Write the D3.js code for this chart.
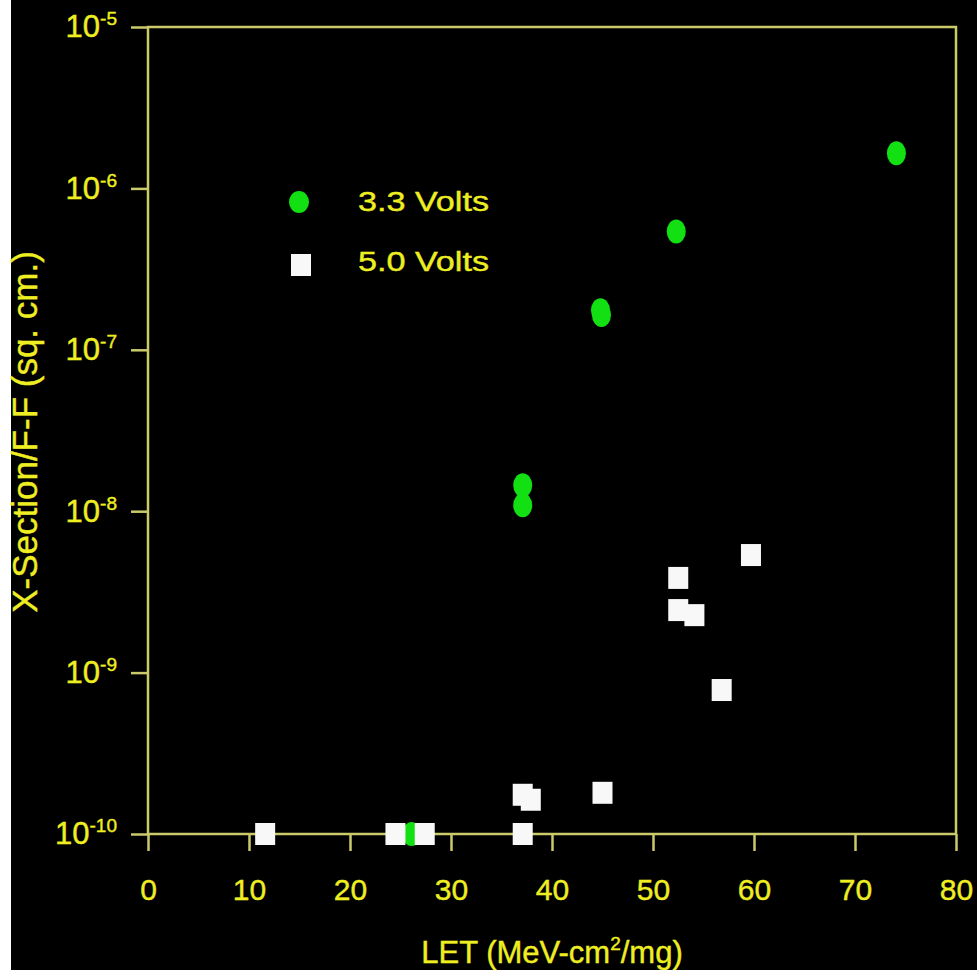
<!DOCTYPE html>
<html>
<head>
<meta charset="utf-8">
<script src="https://cdn.jsdelivr.net/npm/d3@7"></script>
<style>
body { margin: 0; background: #fff; }
svg { display: block; }
</style>
</head>
<body>
<div id="viz"></div>
<script>
// data
var seriesNames = ["3.3 Volts", "5.0 Volts"];
var let33 = [26.1, 37.1, 37.1, 44.8, 44.9, 52.3, 74.1];
var xsec33 = [1e-10, 1.45e-8, 1.09e-8, 1.76e-7, 1.64e-7, 5.4e-7, 1.65e-6];
var let50 = [11.6, 24.5, 27.4, 37.1, 37.1, 37.9, 45.0, 52.5, 52.5, 54.1, 59.7, 56.8];
var xsec50 = [1e-10, 1e-10, 1e-10, 1e-10, 1.75e-10, 1.63e-10, 1.8e-10, 3.86e-9, 2.44e-9, 2.27e-9, 5.35e-9, 7.8e-10];
var xTicks = [0, 10, 20, 30, 40, 50, 60, 70, 80];
var yTicks = [1e-10, 1e-9, 1e-8, 1e-7, 1e-6, 1e-5];
var yExponents = ["-10", "-9", "-8", "-7", "-6", "-5"];

var W = 977, H = 970;
var margin = {top: 27, right: 21, bottom: 136, left: 148},
    width = W - margin.left - margin.right,
    height = H - margin.top - margin.bottom;

var axisColor = "#caca6a", textColor = "#eeee22";
var font = "'Liberation Sans', Arial, sans-serif";

var root = d3.select("#viz")
  .append("svg")
  .attr("width", W)
  .attr("height", H);

// black slide background (thin white strip on the left)
root.append("rect")
  .attr("x", 11).attr("y", 0)
  .attr("width", W - 11).attr("height", H)
  .attr("fill", "#000");

var svg = root.append("g")
  .attr("transform", "translate(" + margin.left + "," + margin.top + ")");

var x = d3.scaleLinear().domain([0, 80]).range([0, width]);
var y = d3.scaleLog().domain([1e-10, 1e-5]).range([height, 0]);

// frame
svg.append("rect")
  .attr("width", width).attr("height", height)
  .attr("fill", "none")
  .attr("stroke", axisColor)
  .attr("stroke-width", 2.5);

// x axis
var gx = svg.append("g")
  .attr("transform", "translate(0," + height + ")")
  .call(d3.axisBottom(x).tickValues(xTicks).tickSizeInner(17).tickSizeOuter(0).tickPadding(28)
    .tickFormat(d3.format("d")));
gx.select(".domain").remove();
gx.selectAll(".tick line").attr("stroke", axisColor).attr("stroke-width", 2.5);
gx.selectAll(".tick text")
  .attr("fill", textColor)
  .attr("stroke", textColor).attr("stroke-width", 0.4)
  .style("font-family", font)
  .style("font-size", "30px");

// y axis, labels as powers of ten
var gy = svg.append("g")
  .call(d3.axisLeft(y).tickValues(yTicks).tickSizeInner(17).tickSizeOuter(0).tickPadding(14)
    .tickFormat(function() { return ""; }));
gy.select(".domain").remove();
gy.selectAll(".tick line").attr("stroke", axisColor).attr("stroke-width", 2.5);
gy.selectAll(".tick text")
  .attr("fill", textColor)
  .attr("stroke", textColor).attr("stroke-width", 0.4)
  .style("font-family", font)
  .style("font-size", "31px")
  .each(function(d, i) {
    var t = d3.select(this);
    t.append("tspan").text("10");
    t.append("tspan")
      .attr("dy", -12)
      .style("font-size", "19px")
      .text(yExponents[i]);
  });

// axis titles
root.append("text")
  .attr("x", 552).attr("y", 963)
  .attr("text-anchor", "middle")
  .attr("fill", textColor)
  .attr("stroke", textColor).attr("stroke-width", 0.4)
  .style("font-family", font)
  .style("font-size", "31px")
  .call(function(t) {
    t.append("tspan").text("LET (MeV-cm");
    t.append("tspan").attr("dy", -13).style("font-size", "19px").text("2");
    t.append("tspan").attr("dy", 13).text("/mg)");
  });

root.append("text")
  .attr("transform", "translate(37,432) rotate(-90)")
  .attr("text-anchor", "middle")
  .attr("fill", textColor)
  .attr("stroke", textColor).attr("stroke-width", 0.4)
  .style("font-family", font)
  .style("font-size", "35px")
  .text("X-Section/F-F (sq. cm.)");

// 3.3 V points
svg.selectAll(".p33")
  .data(let33)
  .enter().append("ellipse")
  .attr("class", "p33")
  .attr("cx", function(d) { return x(d); })
  .attr("cy", function(d, i) { return y(xsec33[i]); })
  .attr("rx", 9.5).attr("ry", 12)
  .attr("fill", "#12e012");

// 5.0 V points
svg.selectAll(".p50")
  .data(let50)
  .enter().append("rect")
  .attr("class", "p50")
  .attr("x", function(d) { return x(d) - 10; })
  .attr("y", function(d, i) { return y(xsec50[i]) - 11; })
  .attr("width", 20).attr("height", 22)
  .attr("fill", "#f8f8f8");

// legend
var legend = root.append("g");
legend.append("ellipse")
  .attr("cx", 299).attr("cy", 202).attr("rx", 10).attr("ry", 11)
  .attr("fill", "#12e012");
legend.append("rect")
  .attr("x", 291).attr("y", 254).attr("width", 20).attr("height", 22)
  .attr("fill", "#f8f8f8");
legend.selectAll("text")
  .data(seriesNames)
  .enter().append("text")
  .attr("x", 358)
  .attr("y", function(d, i) { return 211 + i * 60; })
  .attr("fill", textColor)
  .attr("stroke", textColor).attr("stroke-width", 0.4)
  .attr("textLength", 131)
  .attr("lengthAdjust", "spacingAndGlyphs")
  .style("font-family", font)
  .style("font-size", "27px")
  .text(function(d) { return d; });
</script>
</body>
</html>
